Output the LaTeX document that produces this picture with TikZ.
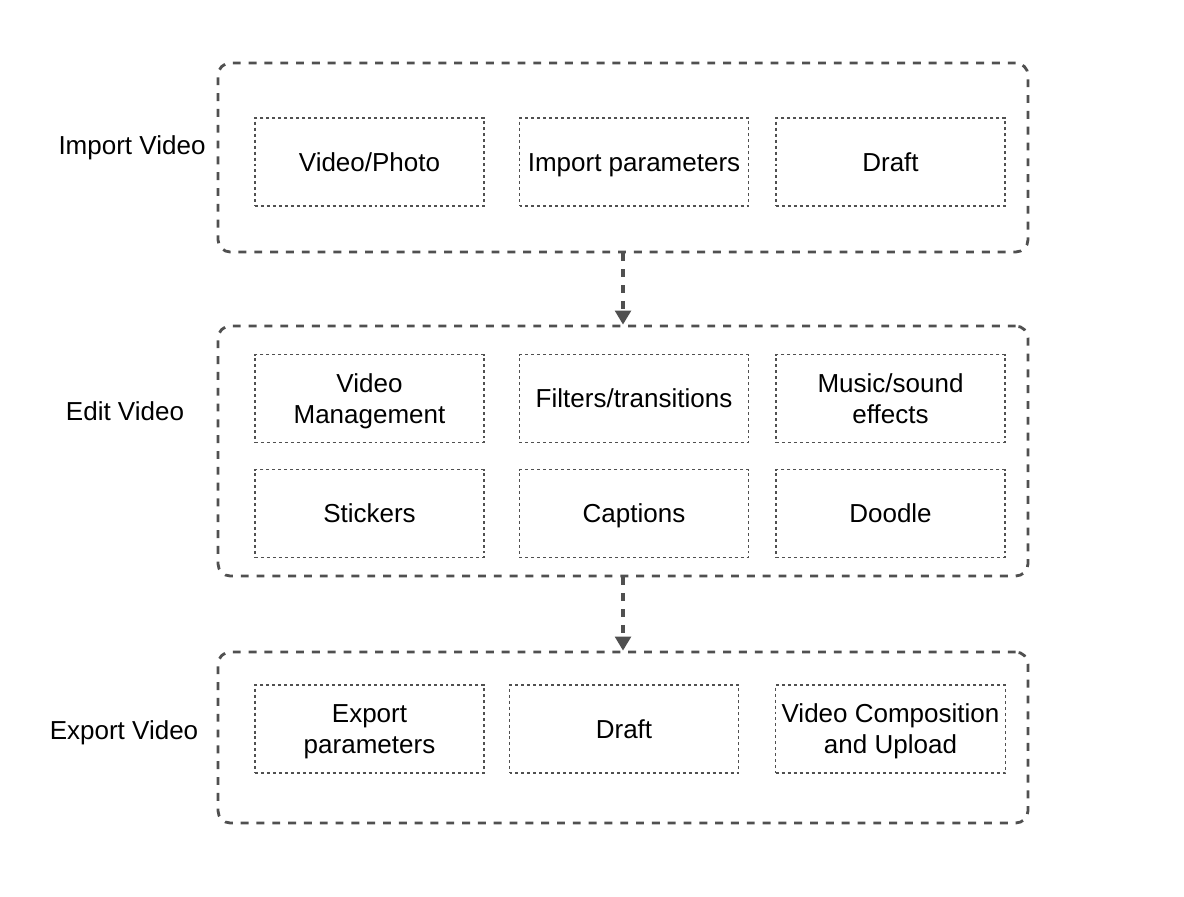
\documentclass[tikz,border=0pt]{standalone}
\usepackage{fontspec}
\setmainfont{Liberation Sans}
\usepackage{xcolor}
\definecolor{line}{RGB}{80,80,80}
\usetikzlibrary{arrows.meta,positioning}

\begin{document}
\begin{tikzpicture}[
        stage/.style={rectangle, rounded corners=7pt, draw=line, line width=1.6pt, dash pattern=on 4.5pt off 4.5pt, minimum width=16.2cm, minimum height=#1},
        item/.style={rectangle, draw=line, line width=0.8pt, dash pattern=on 1.7pt off 1.7pt, minimum width=4.58cm, minimum height=1.76cm, align=center, text depth=0pt, execute at begin node=\vphantom{Vd}, font=\fontsize{14.8}{17.6}\selectfont},
        label/.style={text depth=0pt, execute at begin node=\vphantom{Vd}, font=\fontsize{14.8}{17.6}\selectfont},
        arrow/.style={-{Triangle[width=9pt,length=8pt]}, line width=1.8pt, dash pattern=on 4.5pt off 4.5pt, draw=line}
    ]
        \useasboundingbox (0,0) rectangle (23.68,-17.92);

        % stages
        \node[stage=3.78cm] (import) at (12.46,-3.15) {};
        \node[stage=5.0cm] (edit) at (12.46,-9.02) {};
        \node[stage=3.42cm] (export) at (12.46,-14.75) {};

        \node[label] (importlbl) at (2.64,-2.9) {Import Video};
        \node[label] (editlbl) at (2.5,-8.22) {Edit Video};
        \node[label] (exportlbl) at (2.48,-14.6) {Export Video};

        % import
        \node[item] (media) at (7.39,-3.24) {Video/Photo};
        \node[item] (params) at (12.68,-3.24) {Import parameters};
        \node[item] (draft) at (17.81,-3.24) {Draft};

        % edit
        \node[item] (manage) at (7.39,-7.97) {Video\\Management};
        \node[item] (filters) at (12.68,-7.97) {Filters/transitions};
        \node[item] (music) at (17.81,-7.97) {Music/sound\\effects};
        \node[item] (stickers) at (7.39,-10.27) {Stickers};
        \node[item] (captions) at (12.68,-10.27) {Captions};
        \node[item] (doodle) at (17.81,-10.27) {Doodle};

        % export
        \node[item] (exparams) at (7.39,-14.58) {Export\\parameters};
        \node[item] (exdraft) at (12.48,-14.58) {Draft};
        \node[item] (upload) at (17.81,-14.58) {Video Composition\\and Upload};

        \draw[arrow] (import) -- (edit);
        \draw[arrow] (edit) -- (export);
    \end{tikzpicture}
\end{document}
